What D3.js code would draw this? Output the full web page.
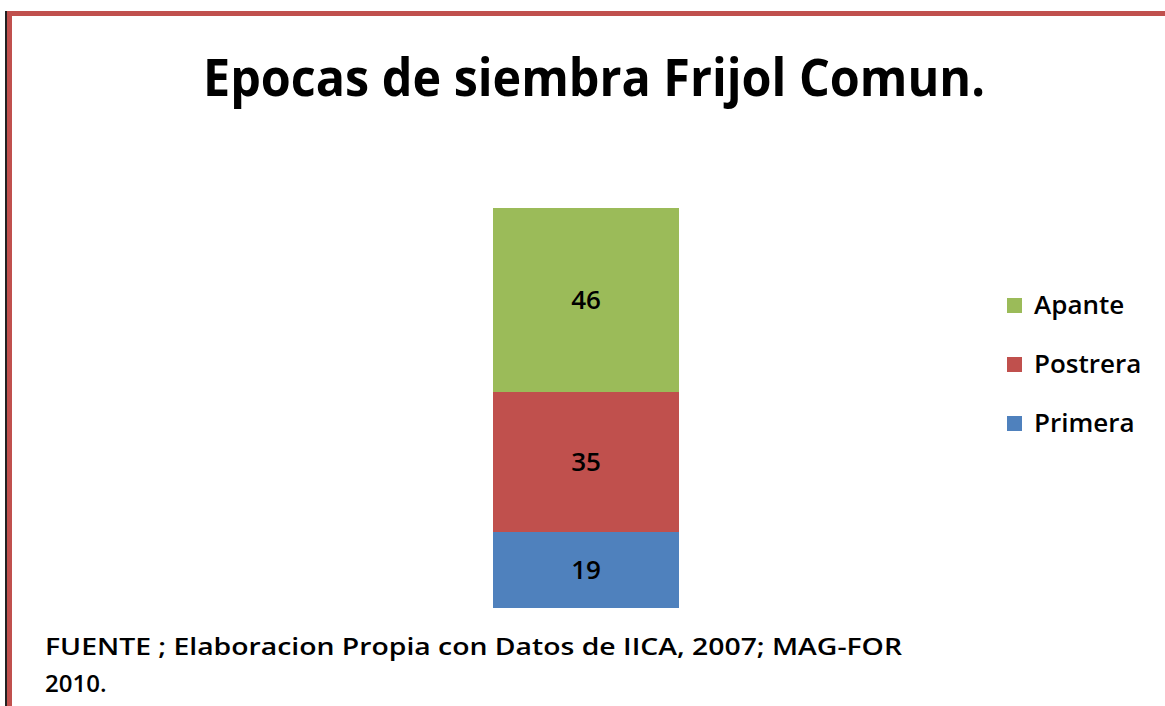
<!DOCTYPE html>
<html>
<head>
<meta charset="utf-8">
<script src="https://cdn.jsdelivr.net/npm/d3@7"></script>
<style>
  body { margin: 0; background: #fff; }
  svg { display: block; font-family: "Open Sans", "Noto Sans", sans-serif; font-weight: 600; }
</style>
</head>
<body>
<div id="chart"></div>
<script>
// data
var categories = ["Frijol Comun"];
var seriesNames = ["Primera", "Postrera", "Apante"];
var seriesValues = [19, 35, 46];
var seriesColors = ["#4F81BD", "#C0504D", "#9BBB59"];
var title = "Epocas de siembra Frijol Comun.";
var sourceLines = ["FUENTE ; Elaboracion Propia con Datos de IICA, 2007; MAG-FOR", "2010."];

var width = 1165, height = 706;

var svg = d3.select("#chart").append("svg")
  .attr("width", width)
  .attr("height", height);

// frame
svg.append("rect").attr("x", 5).attr("y", 11).attr("width", 2).attr("height", height - 11).attr("fill", "#222");
svg.append("rect").attr("x", 7).attr("y", 11).attr("width", width - 7).attr("height", 5).attr("fill", "#C0504D");
svg.append("rect").attr("x", 7).attr("y", 11).attr("width", 5).attr("height", height - 11).attr("fill", "#C0504D");

// title
svg.append("text")
  .attr("x", 594).attr("y", 96)
  .attr("text-anchor", "middle")
  .attr("font-size", 52)
  .attr("font-weight", "bold")
  .attr("textLength", 782)
  .attr("lengthAdjust", "spacingAndGlyphs")
  .attr("fill", "#000")
  .text(title);

// scales
var x = d3.scaleBand().domain(categories).range([493, 679]).paddingInner(0).paddingOuter(0);
var y = d3.scaleLinear().domain([0, 100]).range([608, 208]);

var stacked = d3.stack().keys(seriesNames)([
  seriesNames.reduce(function (o, k, i) { o[k] = seriesValues[i]; return o; }, {cat: categories[0]})
]);

var layer = svg.selectAll(".layer")
  .data(stacked)
  .enter().append("g")
  .attr("class", "layer");

layer.append("rect")
  .attr("x", x(categories[0]))
  .attr("width", x.bandwidth())
  .attr("y", function (d) { return y(d[0][1]); })
  .attr("height", function (d) { return y(d[0][0]) - y(d[0][1]); })
  .attr("fill", function (d, i) { return seriesColors[i]; });

layer.append("text")
  .attr("x", x(categories[0]) + x.bandwidth() / 2)
  .attr("y", function (d) { return (y(d[0][0]) + y(d[0][1])) / 2; })
  .attr("dy", "0.36em")
  .attr("text-anchor", "middle")
  .attr("font-size", 26)
  .attr("fill", "#000")
  .text(function (d, i) { return seriesValues[i]; });

// legend, top entry is the last series
var legendY = d3.scalePoint().domain(seriesNames.slice().reverse()).range([305, 423]);
var legend = svg.selectAll(".legend")
  .data(seriesNames)
  .enter().append("g")
  .attr("class", "legend")
  .attr("transform", function (d) { return "translate(1007," + legendY(d) + ")"; });

legend.append("rect")
  .attr("x", 0).attr("y", -7)
  .attr("width", 15).attr("height", 15)
  .attr("fill", function (d, i) { return seriesColors[i]; });

legend.append("text")
  .attr("x", 27).attr("y", 0)
  .attr("dy", "0.36em")
  .attr("font-size", 26)
  .attr("fill", "#000")
  .text(function (d) { return d; });

// source note
svg.selectAll(".source")
  .data(sourceLines)
  .enter().append("text")
  .attr("class", "source")
  .attr("x", 45)
  .attr("y", function (d, i) { return 655 + i * 37; })
  .attr("font-size", 24)
  .attr("fill", "#000")
  .each(function (d, i) {
    if (i === 0) d3.select(this).attr("textLength", 857).attr("lengthAdjust", "spacingAndGlyphs");
  })
  .text(function (d) { return d; });
</script>
</body>
</html>
